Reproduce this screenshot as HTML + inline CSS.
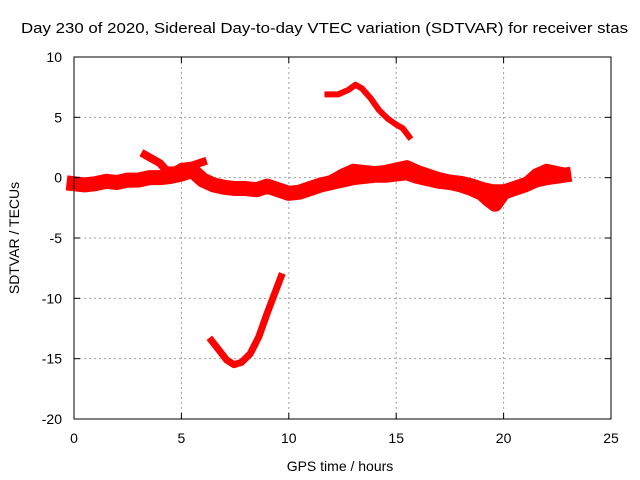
<!DOCTYPE html>
<html><head><meta charset="utf-8"><style>
body{margin:0;background:#fff}
svg{display:block;font-family:"Liberation Sans",sans-serif}
</style></head><body>
<svg id="chart" width="640" height="480">
<rect width="640" height="480" fill="#fff"/>
<text x="21" y="33" font-size="15" textLength="607" lengthAdjust="spacingAndGlyphs">Day 230 of 2020, Sidereal Day-to-day VTEC variation (SDTVAR) for receiver stas</text>
<g id="grid"></g><g id="series"></g><g id="axes"></g>
<text x="340" y="471" font-size="14" text-anchor="middle">GPS time / hours</text>
<text transform="translate(19,238) rotate(-90)" font-size="14" text-anchor="middle">SDTVAR / TECUs</text>
</svg>
<script>
const xTicks=[0,5,10,15,20,25];
const yTicks=[10,5,0,-5,-10,-15,-20];
const serA_x=[0,0.5,1,1.5,2,2.5,3,3.5,4,4.5,5,5.5,6,6.5,7,7.5,8,8.5,9,9.5,10,10.5,11,11.5,12,12.5,13,13.5,14,14.5,15,15.5,16,16.5,17,17.5,18,18.5,19,19.3,19.6,20,20.5,21,21.5,22,22.8];
const serA_y=[-0.5,-0.6,-0.5,-0.3,-0.4,-0.2,-0.2,0,0,0.1,0.3,0.6,-0.2,-0.6,-0.8,-0.9,-0.9,-1,-0.7,-1,-1.3,-1.2,-0.9,-0.6,-0.4,-0.2,0,0.1,0.2,0.2,0.3,0.4,0.1,-0.1,-0.3,-0.4,-0.6,-0.9,-1.3,-1.8,-2.2,-1.2,-0.9,-0.6,-0.2,0,0.2];
const serB_x=[3.3,3.6,4,4.3,4.7,5,5.5,6];
const serB_y=[1.9,1.6,1.2,0.6,0.6,0.9,1.0,1.3];
const serC_x=[12,12.5,13,13.5,14,14.5,15,15.5,16,16.5,17,17.5,18,18.5,19,19.5,20,20.5,21,21.5,22,22.5,22.8];
const serC_y=[-0.2,0.3,0.7,0.6,0.5,0.6,0.8,1.0,0.6,0.3,0,-0.2,-0.3,-0.5,-0.8,-1,-1,-0.8,-0.5,0.3,0.7,0.5,0.4];
const serD_x=[11.8,12.3,12.8,13.1,13.4,13.8,14.2,14.6,15,15.3,15.6];
const serD_y=[6.9,6.9,7.3,7.7,7.4,6.6,5.6,4.9,4.4,4.1,3.4];
const serE_x=[6.4,6.8,7.1,7.45,7.8,8.2,8.6,9,9.3,9.64];
const serE_y=[-13.5,-14.4,-15.1,-15.5,-15.3,-14.6,-13.2,-11.2,-9.8,-8.2];
const X0=74,X1=611,Y0=57,Y1=419;
const sx=v=>X0+(v-0)/25*(X1-X0);
const sy=v=>Y0+(10-v)/30*(Y1-Y0);
const NS="http://www.w3.org/2000/svg";
const mk=(t,a,p)=>{const e=document.createElementNS(NS,t);for(const k in a)e.setAttribute(k,a[k]);p.appendChild(e);return e;};
const grid=document.getElementById('grid'),axes=document.getElementById('axes'),ser=document.getElementById('series');
xTicks.forEach(t=>{
 if(t>0&&t<25){const l=mk('line',{x1:sx(t),x2:sx(t),y1:Y0,y2:Y1,stroke:'#a0a0a0','stroke-dasharray':'2,3'},grid);
 
 }
 const tx=mk('text',{x:sx(t),y:Y1+24,'font-size':14,'text-anchor':'middle'},axes);tx.textContent=t;
 
 
 mk('line',{x1:sx(t),x2:sx(t),y1:Y1,y2:Y1-6,stroke:'#000'},axes);
 mk('line',{x1:sx(t),x2:sx(t),y1:Y0,y2:Y0+6,stroke:'#000'},axes);
});
yTicks.forEach(t=>{
 if(t<10&&t>-20){const l=mk('line',{x1:X0,x2:X1,y1:sy(t),y2:sy(t),stroke:'#a0a0a0','stroke-dasharray':'2,3'},grid);
 
 }
 const tx=mk('text',{x:X0-12,y:sy(t)+5,'font-size':14,'text-anchor':'end'},axes);tx.textContent=t;
 
 
 mk('line',{x1:X0,x2:X0+6,y1:sy(t),y2:sy(t),stroke:'#000'},axes);
 mk('line',{x1:X1,x2:X1-6,y1:sy(t),y2:sy(t),stroke:'#000'},axes);
});
const fr=mk('rect',{x:X0,y:Y0,width:X1-X0,height:Y1-Y0,fill:'none',stroke:'#000'},axes);


function draw(xs,ys,w,name){
 const p=mk('polyline',{points:xs.map((x,i)=>sx(x)+','+sy(ys[i])).join(' '),fill:'none',stroke:'#ff0000','stroke-width':w,'stroke-linejoin':'round','stroke-linecap':'square'},ser);
 
 
}
draw(serA_x,serA_y,15,'series-main-band');
draw(serB_x,serB_y,8,'series-early-upper');
draw(serC_x,serC_y,11,'series-late-band');
draw(serD_x,serD_y,6,'series-high-arc');
draw(serE_x,serE_y,7,'series-low-arc');
</script>
</body></html>
